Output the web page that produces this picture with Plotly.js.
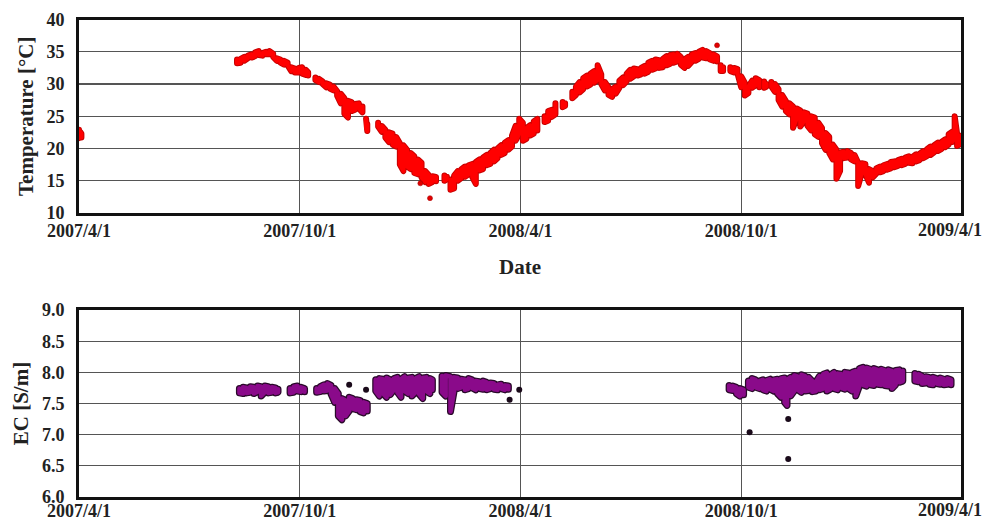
<!DOCTYPE html>
<html>
<head>
<meta charset="utf-8">
<script src="https://cdn.plot.ly/plotly-3.0.1.min.js"></script>
<style>
html,body{margin:0;padding:0;background:#fff;}
#chart{width:986px;height:526px;}
.js-line{stroke-linejoin:round !important;stroke-linecap:round !important;}
</style>
</head>
<body>
<div id="chart"></div>
<script>
// ---- axis ticks ----
const tickVals = ['2007-04-01','2007-10-01','2008-04-01','2008-10-01','2009-04-01'];
const tickText = ['2007/4/1','2007/10/1','2008/4/1','2008/10/1','2009/4/1'];

// ---- Temperature: date, daily band high / low (null = gap in record) ----
const tempDates = [
'2007-04-01','2007-04-02','2007-04-03','2007-04-04',
'2007-08-10','2007-08-13','2007-08-16','2007-08-19','2007-08-22','2007-08-25','2007-08-28','2007-08-31','2007-09-03','2007-09-06',
'2007-09-09','2007-09-12','2007-09-15','2007-09-18','2007-09-21','2007-09-24','2007-09-27','2007-09-30','2007-10-03','2007-10-06',
'2007-10-08','2007-10-11',
'2007-10-14','2007-10-17','2007-10-20','2007-10-23','2007-10-26','2007-10-29','2007-11-01','2007-11-04','2007-11-07','2007-11-10',
'2007-11-13','2007-11-16','2007-11-19','2007-11-22','2007-11-24',
'2007-11-25','2007-11-26','2007-11-30',
'2007-12-05','2007-12-08','2007-12-11','2007-12-14','2007-12-17','2007-12-20','2007-12-23','2007-12-26','2007-12-29','2008-01-01',
'2008-01-04','2008-01-07','2008-01-10','2008-01-13','2008-01-16','2008-01-19','2008-01-22','2008-01-25',
'2008-01-29','2008-01-31','2008-02-01',
'2008-02-03','2008-02-06','2008-02-09','2008-02-12','2008-02-15','2008-02-18','2008-02-21','2008-02-24','2008-02-27','2008-03-01',
'2008-03-04','2008-03-07','2008-03-10','2008-03-13','2008-03-16','2008-03-19','2008-03-22','2008-03-25','2008-03-28','2008-03-31',
'2008-04-03','2008-04-06','2008-04-09','2008-04-12','2008-04-15','2008-04-18',
'2008-04-21','2008-04-24','2008-04-27','2008-04-30','2008-05-03',
'2008-05-06','2008-05-08','2008-05-11',
'2008-05-14','2008-05-17','2008-05-20','2008-05-23','2008-05-26','2008-05-29','2008-06-01','2008-06-04','2008-06-07','2008-06-10',
'2008-06-13','2008-06-16','2008-06-19','2008-06-22','2008-06-25','2008-06-28','2008-07-01','2008-07-04','2008-07-07','2008-07-10',
'2008-07-13','2008-07-16','2008-07-19','2008-07-22','2008-07-25','2008-07-28','2008-07-31','2008-08-03','2008-08-06','2008-08-09',
'2008-08-12','2008-08-15','2008-08-18','2008-08-21','2008-08-24','2008-08-27','2008-08-30','2008-09-02','2008-09-05','2008-09-08',
'2008-09-11','2008-09-12',
'2008-09-14','2008-09-16','2008-09-19',
'2008-09-22','2008-09-25','2008-09-28','2008-10-01','2008-10-04','2008-10-07','2008-10-10','2008-10-13','2008-10-16','2008-10-18',
'2008-10-20','2008-10-22','2008-10-24',
'2008-10-26','2008-10-29','2008-11-01','2008-11-04','2008-11-07','2008-11-10','2008-11-13','2008-11-16','2008-11-19','2008-11-22',
'2008-11-25','2008-11-28','2008-12-01','2008-12-04','2008-12-07','2008-12-10','2008-12-13','2008-12-16','2008-12-19','2008-12-22',
'2008-12-25','2008-12-28','2008-12-31','2009-01-03','2009-01-06','2009-01-09','2009-01-12','2009-01-15','2009-01-18','2009-01-21',
'2009-01-24','2009-01-27','2009-01-30','2009-02-02','2009-02-05','2009-02-08','2009-02-11','2009-02-14','2009-02-17','2009-02-20',
'2009-02-23','2009-02-26','2009-03-01','2009-03-04','2009-03-07','2009-03-10','2009-03-13','2009-03-16','2009-03-19','2009-03-22',
'2009-03-25','2009-03-27','2009-03-29','2009-03-31'
];
const tempHigh = [
22.9,22.6,22.3,null,
33.8,33.9,34.2,34.4,34.6,34.9,35.1,34.8,35.0,35.1,
34.7,34.0,33.8,33.6,33.3,32.6,32.4,32.5,32.6,32.2,
31.8,null,
31.0,30.8,30.4,30.1,29.9,29.6,28.9,28.5,27.8,27.4,
27.2,26.9,27.0,26.5,null,
24.6,23.8,null,
24.0,23.5,22.9,22.5,22.3,21.8,20.8,20.5,19.8,19.3,
18.8,18.3,17.8,16.5,15.9,15.7,15.6,null,
15.8,15.6,null,
15.2,15.8,16.5,16.8,17.2,17.4,17.6,17.9,18.3,18.6,
19.0,19.3,19.8,20.0,20.5,20.9,21.3,22.0,23.5,24.6,
24.0,23.2,23.6,24.2,24.6,null,
25.0,25.8,26.0,27.0,null,
27.2,27.0,null,
28.8,29.6,30.3,30.9,31.3,31.6,32.0,32.9,31.5,30.3,
29.5,29.2,29.6,30.5,31.0,31.6,32.2,32.4,32.3,32.5,
32.8,33.3,33.6,33.8,33.7,33.9,34.3,34.5,34.6,34.7,
34.2,33.8,34.2,34.6,34.8,35.0,35.3,35.1,34.8,34.6,
34.3,null,
32.9,32.6,null,
32.6,32.5,32.3,31.2,30.2,29.6,30.5,30.9,30.6,null,
30.4,30.0,null,
30.3,30.0,29.2,28.3,27.4,27.0,26.5,26.2,25.9,25.6,
25.4,25.0,24.8,24.0,23.2,22.4,21.8,20.6,19.8,19.4,
19.5,19.6,19.3,19.0,17.8,17.7,17.6,16.8,16.5,16.9,
17.2,17.4,17.6,17.9,18.0,18.2,18.4,18.6,18.8,18.7,
19.1,19.2,19.6,19.9,20.3,20.5,20.9,21.0,21.4,22.2,
22.6,25.0,22.3,22.0
];
const tempLow = [
21.6,21.8,21.7,null,
33.2,33.3,33.6,34.0,34.1,34.3,34.5,34.4,34.6,34.6,
34.2,33.6,33.3,33.0,32.9,32.0,31.8,31.8,31.6,31.4,
31.3,null,
30.6,30.3,30.0,29.5,29.3,29.0,28.2,27.0,25.4,24.8,
25.8,26.0,26.2,25.6,null,
23.2,22.7,null,
23.4,22.6,21.7,21.0,20.6,20.3,17.5,16.5,17.2,16.8,
16.2,16.0,15.5,14.8,14.5,14.8,14.9,null,
15.0,15.2,null,
13.6,13.8,15.0,15.4,15.6,16.0,15.6,14.5,16.6,16.8,
17.4,17.6,18.0,18.5,19.0,19.3,19.8,20.3,21.2,22.3,
21.2,21.5,22.0,22.3,22.8,null,
24.1,24.3,24.9,25.3,null,
26.4,26.6,null,
27.8,28.3,28.7,29.2,29.6,29.9,30.2,30.6,30.0,29.0,
28.3,28.0,28.5,29.4,29.8,30.4,30.8,31.2,31.3,31.5,
31.6,31.9,32.2,32.4,32.5,32.6,32.9,33.1,33.3,33.5,
33.0,32.5,32.8,33.4,33.6,33.9,34.1,34.0,33.8,33.6,
33.5,null,
32.0,32.0,null,
32.0,31.8,31.6,29.5,28.2,28.6,29.4,29.8,29.5,null,
29.4,29.6,null,
29.6,28.8,27.5,26.5,25.8,25.3,23.2,24.6,23.4,24.2,
23.5,22.8,22.2,21.8,20.8,19.8,19.3,18.3,15.3,16.5,
18.5,18.6,18.3,18.0,14.2,16.2,16.0,14.7,15.5,16.1,
16.3,16.5,16.7,16.9,17.1,17.3,17.4,17.6,17.8,17.7,
18.0,18.2,18.5,18.8,19.0,19.4,19.6,19.9,20.2,20.6,
21.0,21.6,20.4,20.6
];
// isolated temperature readings
const tempDotDates = ['2008-01-09','2008-01-17','2008-09-11'];
const tempDotValues = [14.6, 12.3, 36.0];

// ---- EC: date, band high / low (null = gap) ----
const ecDates = [
'2007-08-12','2007-08-15','2007-08-18','2007-08-21','2007-08-24','2007-08-27','2007-08-30','2007-09-02','2007-09-05','2007-09-08',
'2007-09-11','2007-09-13','2007-09-18',
'2007-09-23','2007-09-26','2007-09-29','2007-10-02','2007-10-05','2007-10-10',
'2007-10-15','2007-10-18','2007-10-21','2007-10-24','2007-10-27','2007-10-30','2007-11-02','2007-11-05','2007-11-08','2007-11-11',
'2007-11-14','2007-11-17','2007-11-20','2007-11-23','2007-11-26','2007-11-30',
'2007-12-03','2007-12-06','2007-12-09','2007-12-12','2007-12-15','2007-12-18','2007-12-21','2007-12-24','2007-12-27','2007-12-30',
'2008-01-02','2008-01-05','2008-01-08','2008-01-11','2008-01-14','2008-01-17','2008-01-19','2008-01-23',
'2008-01-27','2008-01-30','2008-02-03','2008-02-06','2008-02-09','2008-02-12','2008-02-15','2008-02-18','2008-02-21','2008-02-24',
'2008-02-27','2008-03-01','2008-03-04','2008-03-07','2008-03-10','2008-03-13','2008-03-16','2008-03-19','2008-03-22','2008-06-01',
'2008-09-21','2008-09-24','2008-09-27','2008-09-30','2008-10-03','2008-10-05',
'2008-10-07','2008-10-10','2008-10-13','2008-10-16','2008-10-19','2008-10-22','2008-10-25','2008-10-28','2008-10-31','2008-11-03',
'2008-11-06','2008-11-08','2008-11-11','2008-11-14','2008-11-17','2008-11-20','2008-11-23','2008-11-26','2008-11-29','2008-12-02',
'2008-12-05','2008-12-08','2008-12-11','2008-12-14','2008-12-17','2008-12-20','2008-12-23','2008-12-26','2008-12-29','2009-01-01',
'2009-01-04','2009-01-07','2009-01-10','2009-01-13','2009-01-16','2009-01-19','2009-01-22','2009-01-25','2009-01-28','2009-01-31',
'2009-02-03','2009-02-06','2009-02-09','2009-02-12','2009-02-17',
'2009-02-22','2009-02-25','2009-02-28','2009-03-03','2009-03-06','2009-03-09','2009-03-12','2009-03-15','2009-03-18','2009-03-21',
'2009-03-24'
];
const ecHigh = [
7.74,7.76,7.75,7.77,7.76,7.78,7.77,7.78,7.77,7.76,
7.75,7.73,null,
7.74,7.77,7.78,7.76,7.74,null,
7.74,7.77,7.80,7.82,7.79,7.74,7.66,7.58,7.55,7.60,
7.58,7.56,7.55,7.52,7.50,null,
7.88,7.90,7.89,7.91,7.88,7.90,7.92,7.89,7.93,7.91,
7.92,7.90,7.93,7.91,7.92,7.90,7.88,null,
7.94,7.95,7.93,7.92,7.91,7.89,7.88,7.90,7.88,7.86,
7.85,7.86,7.84,7.83,7.82,7.80,7.81,7.79,7.78,null,
7.79,7.78,7.76,7.74,7.72,null,
7.86,7.90,7.88,7.86,7.88,7.87,7.89,7.88,7.89,7.90,
7.91,7.88,7.92,7.95,7.93,7.96,7.94,7.92,7.86,7.85,
7.94,7.97,7.99,7.96,8.00,7.98,7.97,8.00,7.99,8.00,
8.02,8.06,8.08,8.07,8.05,8.06,8.04,8.05,8.03,8.04,
8.02,8.03,8.04,8.02,null,
7.98,7.97,7.94,7.93,7.92,7.92,7.90,7.91,7.89,7.90,
7.88
];
const ecLow = [
7.67,7.66,7.67,7.68,7.66,7.69,7.62,7.68,7.67,7.68,
7.67,7.68,null,
7.67,7.68,7.70,7.69,7.69,null,
7.68,7.69,7.70,7.71,7.65,7.52,7.30,7.24,7.30,7.38,
7.42,7.40,7.37,7.35,7.38,null,
7.70,7.62,7.66,7.60,7.64,7.72,7.68,7.60,7.70,7.66,
7.62,7.68,7.65,7.58,7.70,7.66,7.72,null,
7.68,7.62,7.37,7.70,7.74,7.76,7.72,7.74,7.75,7.72,
7.74,7.73,7.72,7.74,7.73,7.72,7.74,7.72,7.73,null,
7.72,7.71,7.66,7.62,7.64,null,
7.76,7.74,7.76,7.74,7.72,7.70,7.73,7.70,7.66,7.60,
7.52,7.47,7.62,7.70,7.72,7.68,7.70,7.71,7.69,7.70,
7.72,7.74,7.70,7.73,7.74,7.72,7.75,7.73,7.74,7.70,
7.62,7.78,7.80,7.78,7.80,7.79,7.81,7.80,7.79,7.78,
7.74,7.80,7.84,7.86,null,
7.86,7.85,7.82,7.83,7.81,7.80,7.82,7.81,7.80,7.81,
7.80
];
// isolated EC readings
const ecDotDates = ['2007-11-11','2007-11-25','2008-03-23','2008-03-31','2008-10-08','2008-11-09','2008-11-09'];
const ecDotValues = [7.80, 7.72, 7.56, 7.72, 7.04, 7.25, 6.61];

// build a boustrophedon path through the high/low readings of each date
function band(dates, hi, lo) {
  const xs = [], ys = [];
  let k = 0;
  for (let i = 0; i < dates.length; i++) {
    if (hi[i] === null) { xs.push(dates[i]); ys.push(null); k = 0; continue; }
    if (k % 2 === 0) { xs.push(dates[i], dates[i]); ys.push(hi[i], lo[i]); }
    else { xs.push(dates[i], dates[i]); ys.push(lo[i], hi[i]); }
    k++;
  }
  return {x: xs, y: ys};
}
const tBand = band(tempDates, tempHigh, tempLow);
const eBand = band(ecDates, ecHigh, ecLow);

const serif = 'Liberation Serif, Times New Roman, serif';
const tickFont = {family: serif, size: 18, color: '#222', weight: 'bold'};
const titleFont = {family: serif, size: 21, color: '#222', weight: 'bold'};

const traces = [
  {x: tBand.x, y: tBand.y, type: 'scatter', mode: 'lines', xaxis: 'x', yaxis: 'y',
   line: {color: '#c80000', width: 6}, connectgaps: false, hoverinfo: 'skip'},
  {x: tBand.x, y: tBand.y, type: 'scatter', mode: 'lines', xaxis: 'x', yaxis: 'y',
   line: {color: '#ff0000', width: 4}, connectgaps: false},
  {x: tempDotDates, y: tempDotValues, type: 'scatter', mode: 'markers', xaxis: 'x', yaxis: 'y',
   marker: {color: '#e00000', size: 5, line: {color: '#a00000', width: 0.5}}, cliponaxis: false},
  {x: eBand.x, y: eBand.y, type: 'scatter', mode: 'lines', xaxis: 'x2', yaxis: 'y2',
   line: {color: '#2a0a2a', width: 7}, connectgaps: false, hoverinfo: 'skip'},
  {x: eBand.x, y: eBand.y, type: 'scatter', mode: 'lines', xaxis: 'x2', yaxis: 'y2',
   line: {color: '#8a0a8a', width: 4.5}, connectgaps: false},
  {x: ecDotDates, y: ecDotValues, type: 'scatter', mode: 'markers', xaxis: 'x2', yaxis: 'y2',
   marker: {color: '#1a0a1a', size: 6}, cliponaxis: false}
];

const lastIdx = tickText.length - 1;
function xAxis(anchor, withTitle, standoff) {
  const ax = {
    type: 'date', anchor: anchor, domain: [0, 1],
    range: ['2007-04-01', '2009-04-01 06:00'],
    tickmode: 'array', tickvals: tickVals,
    // the last label sits at the page edge; it is drawn as an annotation below
    ticktext: tickText.map((t, i) => i === lastIdx ? '' : t),
    showgrid: true, gridcolor: '#555', gridwidth: 1.2,
    showline: true, mirror: true, linecolor: '#111', linewidth: 3,
    ticks: '', zeroline: false, automargin: false,
    tickfont: tickFont, ticklabelstandoff: standoff, fixedrange: true
  };
  if (withTitle) ax.title = {text: 'Date', font: titleFont, standoff: 20};
  return ax;
}
function yAxis(anchor, domain, range, dtick, fmt, title) {
  return {
    anchor: anchor, domain: domain, range: range, dtick: dtick, tick0: range[0],
    tickformat: fmt, showgrid: true, gridcolor: '#555', gridwidth: 1.2,
    showline: true, mirror: true, linecolor: '#111', linewidth: 3,
    ticks: '', zeroline: false, automargin: false,
    tickfont: tickFont, ticklabelstandoff: 8,
    title: {text: title, font: titleFont, standoff: 8}, fixedrange: true
  };
}

const edgeLabels = [
  {xref: 'x', yref: 'paper', x: tickVals[lastIdx], y: 1 - 230 / 526},
  {xref: 'x2', yref: 'paper', x: tickVals[lastIdx], y: 1 - 510 / 526}
].map(a => Object.assign(a, {
  text: tickText[lastIdx], showarrow: false, xanchor: 'center', yanchor: 'middle',
  xshift: -11, font: tickFont
}));

const layout = {
  width: 986, height: 526,
  margin: {l: 79, r: 25, t: 0, b: 0},
  paper_bgcolor: '#fff', plot_bgcolor: '#fff',
  showlegend: false,
  xaxis: xAxis('y', true, -1),
  yaxis: yAxis('x', [0.5951, 0.9629], [10, 40], 5, 'd', 'Temperature [°C]'),
  xaxis2: xAxis('y2', false, -5),
  yaxis2: yAxis('x2', [0.0551, 0.4106], [6, 9], 0.5, '.1f', 'EC [S/m]'),
  annotations: edgeLabels
};

Plotly.newPlot('chart', traces, layout, {staticPlot: true, displayModeBar: false});
</script>
</body>
</html>
